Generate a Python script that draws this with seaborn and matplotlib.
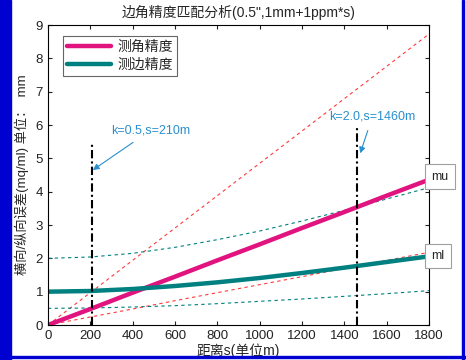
import numpy as np
import pandas as pd
import matplotlib
matplotlib.use("Agg")
import matplotlib.pyplot as plt
import seaborn as sns
from matplotlib.patches import Rectangle

# distance (m) and errors (mm)
s = [0, 200, 400, 600, 800, 1000, 1200, 1400, 1600, 1800]
mu = [0, 0.48, 0.97, 1.45, 1.94, 2.42, 2.91, 3.39, 3.88, 4.36]
ml = [1.0, 1.02, 1.08, 1.17, 1.28, 1.41, 1.56, 1.72, 1.89, 2.06]
mu_hi = [0, 0.97, 1.94, 2.91, 3.88, 4.85, 5.82, 6.79, 7.76, 8.73]
mu_lo = [0, 0.24, 0.48, 0.73, 0.97, 1.21, 1.45, 1.70, 1.94, 2.18]
ml_hi = [2.0, 2.04, 2.15, 2.33, 2.56, 2.82, 3.12, 3.44, 3.78, 4.12]
ml_lo = [0.5, 0.51, 0.54, 0.58, 0.64, 0.71, 0.78, 0.86, 0.94, 1.03]

k_s = [210, 1460]
k_top = [5.45, 5.95]
k_labels = ["k=0.5,s=210m", "k=2.0,s=1460m"]

sns.set_style("ticks")
plt.rcParams['font.family'] = ['Liberation Sans', 'Noto Sans CJK SC', 'DejaVu Sans']
plt.rcParams['font.size'] = 9

pink = '#e0137f'
teal = '#008080'
red = '#ff3b3b'
blue = '#2a8fcf'

df = pd.DataFrame({'s': s, 'mu': mu, 'ml': ml, 'mu_hi': mu_hi, 'mu_lo': mu_lo,
                   'ml_hi': ml_hi, 'ml_lo': ml_lo})

fig = plt.figure(figsize=(4.66, 3.6), dpi=100)
ax = fig.add_axes([48/466, 1-325/360, 381/466, 300/360])

sns.lineplot(data=df, x='s', y='mu_hi', ax=ax, color=red, lw=0.8, ls=(0, (3, 3)))
sns.lineplot(data=df, x='s', y='mu_lo', ax=ax, color=red, lw=0.8, ls=(0, (3, 3)))
sns.lineplot(data=df, x='s', y='ml_hi', ax=ax, color=teal, lw=0.8, ls=(0, (3, 3)))
sns.lineplot(data=df, x='s', y='ml_lo', ax=ax, color=teal, lw=0.8, ls=(0, (3, 3)))
sns.lineplot(data=df, x='s', y='mu', ax=ax, color=pink, lw=3.2, label='测角精度')
sns.lineplot(data=df, x='s', y='ml', ax=ax, color=teal, lw=3.2, label='测边精度')

ax.vlines(k_s, 0, k_top, colors='k', lw=1.5, linestyles=(0, (4, 1.5, 1, 1.5)))

ax.annotate(k_labels[0], xy=(212, 4.65), xytext=(300, 5.85), color=blue, fontsize=9,
            va='center', arrowprops=dict(arrowstyle='-|>', color=blue, lw=0.8, shrinkA=4, shrinkB=0))
ax.annotate(k_labels[1], xy=(1475, 5.15), xytext=(1330, 6.27), color=blue, fontsize=9,
            va='center', arrowprops=dict(arrowstyle='-|>', color=blue, lw=0.8, shrinkA=4, shrinkB=0))

ax.text(1812, 4.45, 'mu', fontsize=9, va='center', ha='left', clip_on=False,
        bbox=dict(boxstyle='square,pad=0.5', fc='white', ec='#a0a0a0', lw=0.8))
ax.text(1812, 2.07, 'ml', fontsize=9, va='center', ha='left', clip_on=False,
        bbox=dict(boxstyle='square,pad=0.5', fc='white', ec='#a0a0a0', lw=0.8))

ax.set_xlim(0, 1800)
ax.set_ylim(0, 9)
ax.set_xticks(range(0, 1801, 200))
ax.set_yticks(range(0, 10))
ax.tick_params(direction='in', top=True, right=True, length=3, labelsize=9.5, colors='#222222')
for sp in ax.spines.values():
    sp.set_color('k')
    sp.set_linewidth(0.8)

ax.set_xlabel('距离s(单位m)', fontsize=10, labelpad=1)
ax.set_ylabel('横向/纵向误差(mq/ml) 单位：  mm', fontsize=9.5, labelpad=5)
ax.set_title('边角精度匹配分析(0.5",1mm+1ppm*s)', fontsize=10, pad=6)

leg = ax.legend(loc='upper left', bbox_to_anchor=(0.039, 0.963), borderaxespad=0,
                fontsize=10, frameon=True, fancybox=False, edgecolor='#404040',
                handlelength=3.2, borderpad=0.3, labelspacing=0.25, handletextpad=0.4)
leg.get_frame().set_linewidth(0.8)

# blue frame around the figure
fig.patches.append(Rectangle((0, 0), 11/466, 1, transform=fig.transFigure,
                             color='#0000d0', zorder=0))
fig.patches.append(Rectangle((462/466, 0), 2/466, 1, transform=fig.transFigure,
                             color='#0000d0', zorder=0))
fig.patches.append(Rectangle((0, 2/360), 1, 2/360, transform=fig.transFigure,
                             color='#0000d0', zorder=0))

fig.savefig('out.png', dpi=100)
